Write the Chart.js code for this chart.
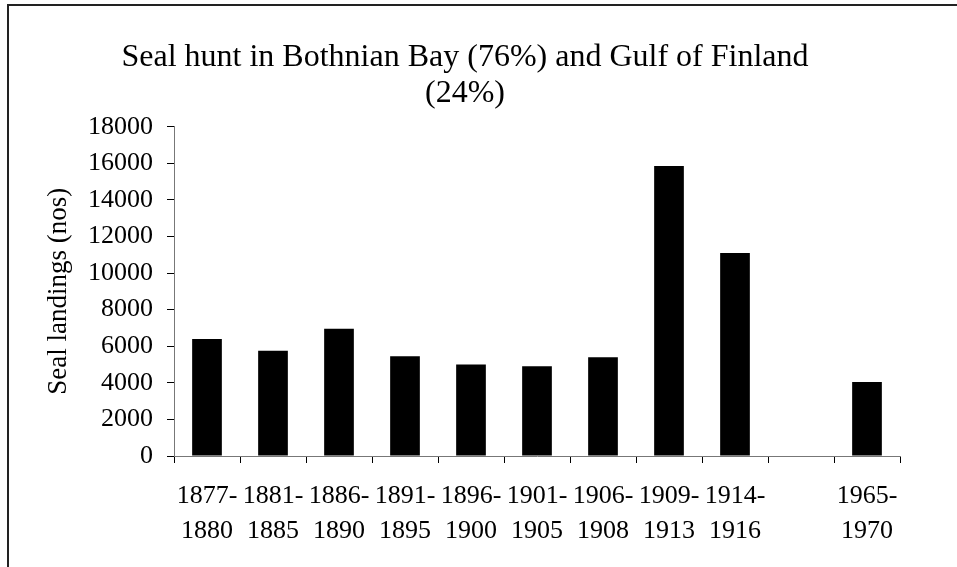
<!DOCTYPE html>
<html>
<head>
<meta charset="utf-8">
<script src="https://cdn.jsdelivr.net/npm/chart.js@4"></script>
<style>
  html, body { margin: 0; padding: 0; background: #fff; overflow: hidden; }
  #wrap { position: relative; width: 957px; height: 567px; }
  #frame { position: absolute; left: 7px; top: 4px; width: 1000px; height: 700px;
           border-left: 2px solid #222; border-top: 2px solid #222; }
  canvas { position: absolute; left: 0; top: 0; }
</style>
</head>
<body>
<div id="wrap">
  <div id="frame"></div>
  <canvas id="seal" width="957" height="567"></canvas>
</div>
<script>
var periods = [['1877-', '1880'], ['1881-', '1885'], ['1886-', '1890'], ['1891-', '1895'],
  ['1896-', '1900'], ['1901-', '1905'], ['1906-', '1908'], ['1909-', '1913'],
  ['1914-', '1916'], '', ['1965-', '1970']]
var landings = [6400, 5750, 6950, 5450, 5000, 4900, 5400, 15850, 11100, null, 4050]
var yTicks = [0, 2000, 4000, 6000, 8000, 10000, 12000, 14000, 16000, 18000]

var serif = 'Liberation Serif, Times New Roman, serif'

var ctx = document.getElementById('seal').getContext('2d')
new Chart(ctx, {
  type: 'bar',
  data: {
    labels: periods,
    datasets: [{
      label: 'Seal landings',
      data: landings,
      backgroundColor: '#000',
      borderWidth: 0,
      barPercentage: 0.45,
      categoryPercentage: 1
    }]
  },
  options: {
    responsive: false,
    animation: false,
    events: [],
    layout: { padding: { left: 30, right: 57, top: 40, bottom: 0 } },
    plugins: {
      legend: { display: false },
      tooltip: { enabled: false },
      title: {
        display: true,
        text: ['Seal hunt in Bothnian Bay (76%) and Gulf of Finland', '(24%)'],
        color: '#000',
        font: { family: serif, size: 32, weight: 'normal', lineHeight: 1.12 },
        padding: { top: 0, bottom: 15 }
      }
    },
    scales: {
      x: {
        grid: { offset: true, drawOnChartArea: false, tickLength: 7, tickColor: '#000', lineWidth: 1 },
        border: { color: '#777', width: 1 },
        ticks: { color: '#000', padding: 16, maxRotation: 0, autoSkip: false,
                 font: { family: serif, size: 26, lineHeight: 1.35 } },
        afterFit: function (s) { s.height = 111 }
      },
      y: {
        min: 0, max: 18000,
        afterBuildTicks: function (s) { s.ticks = yTicks.map(function (v) { return { value: v } }) },
        grid: { drawOnChartArea: false, tickLength: 7, tickColor: '#000', lineWidth: 1 },
        border: { color: '#777', width: 1 },
        ticks: { color: '#000', padding: 14, font: { family: serif, size: 26 },
                 callback: function (v) { return String(v) } },
        title: {
          display: true,
          text: 'Seal landings (nos)',
          color: '#000',
          font: { family: serif, size: 27, lineHeight: 1.2 },
          padding: { top: 13, bottom: 0 }
        },
        afterFit: function (s) { s.width = 144 }
      }
    }
  }
})
</script>
</body>
</html>
